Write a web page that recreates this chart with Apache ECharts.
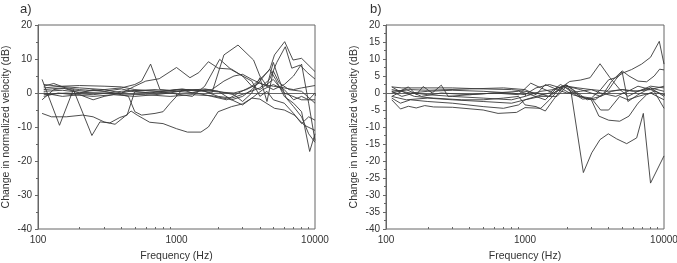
<!DOCTYPE html>
<html>
<head>
<meta charset="utf-8">
<script src="https://cdn.jsdelivr.net/npm/echarts@6/dist/echarts.min.js"></script>
<style>
  html, body { margin: 0; padding: 0; background: #fff; }
  #chart { width: 677px; height: 263px; }
</style>
</head>
<body>
<div id="chart"></div>
<script>
// frequency (Hz) / change in normalized velocity (dB) pairs
const xMinorTicks = [200, 300, 400, 500, 600, 700, 800, 900, 2000, 3000, 4000, 5000, 6000, 7000, 8000, 9000]
const xLabels = [100, 1000, 10000]

// panel a)
const a1 = [[107, 4], [143, -9.5], [180, 1], [245, -12.5], [280, -8.5], [330, -8.8], [390, -7.2], [440, -6.5], [500, 0.5], [640, 0], [800, 0.5], [1000, 1], [1250, 0.8], [1600, 1.2], [2000, 0.5], [2500, -2], [3000, -1], [3500, 1], [4000, 3.5], [4700, 7], [5200, 4], [6000, -1], [7000, -3], [8000, -5.5], [9150, -17.2], [10000, -12]]
const a2 = [[107, -6], [125, -7], [160, -7], [210, -6.5], [250, -7], [300, -8.5], [360, -9.2], [420, -7], [470, -5.3], [520, -6.5], [640, -8.6], [800, -9], [1000, -10.5], [1200, -11.5], [1500, -11.5], [1700, -10], [2000, -5.5], [2500, -4], [3000, -3.2], [3500, -1.5], [4000, -1.8], [5100, -4.5], [6000, -5], [7100, -6.5], [8400, -9.5], [10000, -11]]
const a3 = [[107, -2], [130, 1], [160, 1.5], [200, 1], [300, 0.5], [400, -0.5], [450, -1], [500, -5.5], [560, -6.5], [700, -6], [800, -5.5], [900, -3], [1000, -1], [1100, 1], [1300, 0], [1600, 1], [2000, 0.5], [2600, -0.5], [3000, -2.5], [3500, 0], [4000, 4.5], [4500, -2.5], [5000, 6.5], [5500, 3], [6500, 1], [8000, 0.5], [10000, -3]]
const a4 = [[110, 2.5], [140, 2], [200, 1.5], [300, 1], [400, 1.5], [500, 2.5], [560, 3.5], [650, 8.5], [760, 1], [900, 0.8], [1100, 1.2], [1400, 0.5], [1800, 1], [2200, 3.5], [2600, 5], [3000, 5.5], [3500, 4], [4200, 2.5], [5000, 2], [6000, 1.5], [7000, 1], [8000, 1.5], [10000, 2.2]]
const a5 = [[110, 0], [150, -1], [200, -0.5], [250, -2], [300, -1], [400, 0], [500, 2], [600, 3.5], [750, 4.2], [1000, 7.5], [1250, 4.5], [1450, 6], [1700, 9.2], [2000, 7.3], [2500, 7], [3000, 5], [3500, 3.5], [4000, -1], [4500, 0.5], [5000, -2], [6000, -3], [7000, -6], [8000, -9], [9000, -7], [10000, -8]]
const a6 = [[110, 1.5], [150, 2], [200, 2.2], [300, 2], [400, 1.8], [500, 1], [700, 0.5], [900, 0], [1300, -1], [1600, 2], [2050, 9.9], [2500, 6.8], [3000, 5], [3500, 2], [4000, 1], [5000, 4], [6000, 0], [8000, -2], [10000, -2]]
const a7 = [[110, -0.5], [160, 0], [250, -0.5], [400, 0.5], [700, 1], [1000, 0.5], [1400, 1], [1800, 0], [2200, 11.2], [2780, 14.1], [3600, 9.7], [4000, 5], [4500, 2], [5000, 9], [5500, 4], [6200, -1.5], [7000, -4], [8000, -7], [9000, -12], [10000, -14.5]]
const a8 = [[110, 1], [150, 1.5], [200, 0], [250, 1], [300, 0.5], [400, 1.2], [500, 0.3], [700, 0], [1000, 0.5], [1400, 0], [1800, -1], [2300, -2], [2800, 0], [3500, 2], [4000, 4], [4700, 6.8], [5100, 11.2], [6040, 15.1], [6940, 9.7], [8000, 10.2], [10000, 6.3]]
const a9 = [[110, -1], [140, 0], [180, -0.5], [250, -1], [350, -0.5], [500, -1], [700, -0.5], [900, 0], [1200, 1], [1600, 0.5], [2000, -1], [2500, -1.5], [3200, 0], [4000, 1.5], [4700, 4], [5300, 9], [6100, 13.6], [6800, 7.3], [7800, 8.2], [8800, 6], [10000, 4.1]]
const a10 = [[110, 2], [130, 2.8], [170, 1], [220, 0.5], [300, 1], [400, 0], [500, 0.8], [800, 0.5], [1100, 1], [1500, 0.8], [2000, 0.3], [2600, 0], [3200, 1], [4000, 3], [5000, 1], [6000, 2.5], [7000, 5], [8000, 8.5], [9000, -3], [10000, -14]]
const a11 = [[110, 0.5], [150, 0.8], [200, 0.2], [300, 0], [400, -0.3], [600, -0.5], [900, -1], [1300, -0.5], [1800, -0.8], [2500, -2], [3000, -3.5], [3500, -1.5], [4200, 1], [5000, 2.5], [6000, 1], [7000, -2], [8000, -1], [9000, -2], [10000, 0]]

// panel b)
const b1 = [[110, 0.5], [130, -1], [160, 0], [200, -0.5], [300, -1], [500, -1.5], [800, -2], [1000, -1], [1300, 0.5], [1600, 1], [2000, 2.3], [2150, 0], [2630, -23.4], [3020, -17.6], [3465, -13.7], [3975, -12], [4570, -13.5], [5390, -14.9], [6360, -13.2], [7100, -6], [8000, -26.5], [10000, -18.5]]
const b2 = [[110, -1.5], [127, -3], [150, -2], [200, -2.5], [300, -3], [500, -4], [700, -4.5], [900, -3.5], [1000, -2], [1200, -1], [1500, 0], [1800, 2.5], [2100, 1], [2500, -1], [3000, -2], [3400, -6.8], [4000, -8], [4800, -8.3], [5600, -6.8], [6500, -3], [7500, -0.5], [8500, 0.5], [10000, -4.5]]
const b3 = [[110, 1.8], [130, 1.5], [200, 1.5], [300, 1.5], [500, 1.2], [800, 1], [1000, 0.5], [1200, 0], [1500, -1], [1800, 1.5], [2100, 3.4], [2500, 3.8], [2940, 4.5], [3465, 8.6], [4085, 4.5], [4820, 1], [5500, -1], [6500, 0.5], [8000, 1.5], [10000, 0.5]]
const b4 = [[110, 0], [140, 1], [180, -1], [250, 0], [400, -0.5], [600, 0], [900, 0.5], [1100, -0.5], [1400, -2], [1700, 1.5], [2000, 2.3], [2500, -1], [3000, -1.5], [3500, 1], [4000, 3.9], [4500, 4.5], [5070, 5.9], [5850, 6.9], [6900, 8.5], [8000, 10.5], [9250, 15.2], [10000, 8.5]]
const b5 = [[110, 1], [150, 0], [200, 0.5], [300, 0.8], [500, 0.5], [800, 0], [1000, -0.5], [1200, 1.5], [1500, 2.5], [1800, 1.5], [2200, -0.5], [2700, -1.5], [3200, -2], [3700, 0], [4200, 3.5], [5000, 6.5], [5600, 5], [6500, 3.5], [7500, 3.3], [8500, 5], [9300, 7], [10000, 6.8]]
const b6 = [[110, -1], [140, -2], [200, -1.5], [300, -2], [500, -2.5], [800, -3], [1000, -2], [1300, -1], [1700, -1], [2000, 2], [2500, 1], [3000, 0], [3500, -1], [4000, 1], [4500, 4], [5000, 6.2], [5500, -2.5], [6500, -0.5], [8000, 1.5], [10000, -1]]
const b7 = [[110, 1.8], [125, 0.5], [145, 1.8], [165, -0.5], [185, 1.9], [215, 0], [250, 2.3], [280, -1], [400, -0.5], [600, 0], [900, -0.5], [1100, 2.9], [1300, 1.5], [1600, 0], [2000, 2], [2400, 1.5], [3000, 1], [4000, 0.5], [5000, 1], [6000, 0.5], [8000, 1], [10000, 2]]
const b8 = [[110, -2], [127, -4.7], [145, -3.9], [165, -4.4], [190, -3.7], [220, -4.1], [300, -4.2], [500, -5], [640, -6], [870, -5.7], [1000, -4.3], [1300, -4.5], [1500, -2], [1800, 1.5], [2000, 2.3], [2400, 0], [2800, -2], [3500, -1], [4200, 0.5], [5000, 1], [6500, 0.5], [8000, 2], [10000, 1.5]]
const b9 = [[110, 0.5], [150, 1], [200, 0.8], [400, 1.2], [700, 1.5], [1000, 1], [1200, -0.5], [1400, 2.5], [1700, 1], [2000, 0], [2500, 0.5], [3000, 1], [3500, 0], [4500, -1], [5500, 0.5], [6500, 2], [8000, 1], [10000, -0.5]]
const b10 = [[110, -1], [130, 0.5], [160, -1], [220, -1.5], [350, -2], [500, -2], [700, -1.5], [900, -1], [1000, -3.5], [1200, -4], [1400, -5.3], [1600, -2], [1900, 2], [2200, 0], [2600, -1.8], [3000, -1.5], [3500, -5], [4000, -5], [4800, -1], [5500, -2], [6500, -1], [8000, 0], [10000, -2]]

const panelA = [a1, a2, a3, a4, a5, a6, a7, a8, a9, a10, a11]
const panelB = [b1, b2, b3, b4, b5, b6, b7, b8, b9, b10]

const textColor = '#333'
const frameColor = '#666'
const lineColor = '#3a3a3a'
const font = 'Liberation Sans, Arial, sans-serif'

// main log axis: labels, title and outward major ticks
const makeX = (gridIndex) => ({
  type: 'log',
  gridIndex,
  position: 'bottom',
  logBase: 10,
  min: 100,
  max: 10000,
  name: 'Frequency (Hz)',
  nameLocation: 'middle',
  nameGap: 22,
  nameTextStyle: { color: textColor, fontSize: 10.5, fontFamily: font },
  axisLine: { lineStyle: { color: frameColor, width: 1 } },
  axisTick: { inside: false, length: 3, customValues: xLabels, lineStyle: { color: frameColor } },
  axisLabel: { color: textColor, fontSize: 10, fontFamily: font, margin: 6, customValues: xLabels, formatter: (v) => String(v) },
  splitLine: { show: false },
})

// overlay log axis carrying only the small inward ticks
const makeXMinor = (gridIndex) => ({
  type: 'log',
  gridIndex,
  position: 'bottom',
  offset: 0,
  logBase: 10,
  min: 100,
  max: 10000,
  axisLine: { show: false },
  axisTick: { inside: true, length: 2, customValues: xMinorTicks, lineStyle: { color: frameColor } },
  axisLabel: { show: false },
  splitLine: { show: false },
})

const makeY = (gridIndex, interval) => ({
  type: 'value',
  gridIndex,
  min: -40,
  max: 20,
  interval,
  name: 'Change in normalized velocity (dB)',
  nameLocation: 'middle',
  nameGap: 26,
  nameTextStyle: { color: textColor, fontSize: 10.5, fontFamily: font },
  axisLine: { show: true, lineStyle: { color: frameColor, width: 1 } },
  axisTick: { show: true, inside: false, length: 3, lineStyle: { color: frameColor } },
  minorTick: { show: true, splitNumber: 2, length: 2, lineStyle: { color: frameColor } },
  axisLabel: { color: textColor, fontSize: 10, fontFamily: font, margin: 6 },
  splitLine: { show: false },
})

const makeSeries = (lines, idx) => lines.map((pts) => ({
  type: 'line',
  xAxisIndex: idx,
  yAxisIndex: idx,
  data: pts,
  symbol: 'none',
  silent: true,
  lineStyle: { color: lineColor, width: 0.9 },
}))

const chart = echarts.init(document.getElementById('chart'))
chart.setOption({
  animation: false,
  backgroundColor: '#fff',
  title: [
    { text: 'a)', left: 15, top: -2, textStyle: { color: textColor, fontSize: 13, fontWeight: 'normal', fontFamily: font } },
    { text: 'b)', left: 365, top: -2, textStyle: { color: textColor, fontSize: 13, fontWeight: 'normal', fontFamily: font } },
  ],
  grid: [
    { left: 38, right: 362, top: 25, bottom: 34, outerBoundsMode: 'none', show: true, borderColor: frameColor, borderWidth: 1 },
    { left: 386, right: 13, top: 25, bottom: 34, outerBoundsMode: 'none', show: true, borderColor: frameColor, borderWidth: 1 },
  ],
  xAxis: [makeX(0), makeX(1), makeXMinor(0), makeXMinor(1)],
  yAxis: [makeY(0, 10), makeY(1, 5)],
  series: [...makeSeries(panelA, 0), ...makeSeries(panelB, 1)],
})
</script>
</body>
</html>
